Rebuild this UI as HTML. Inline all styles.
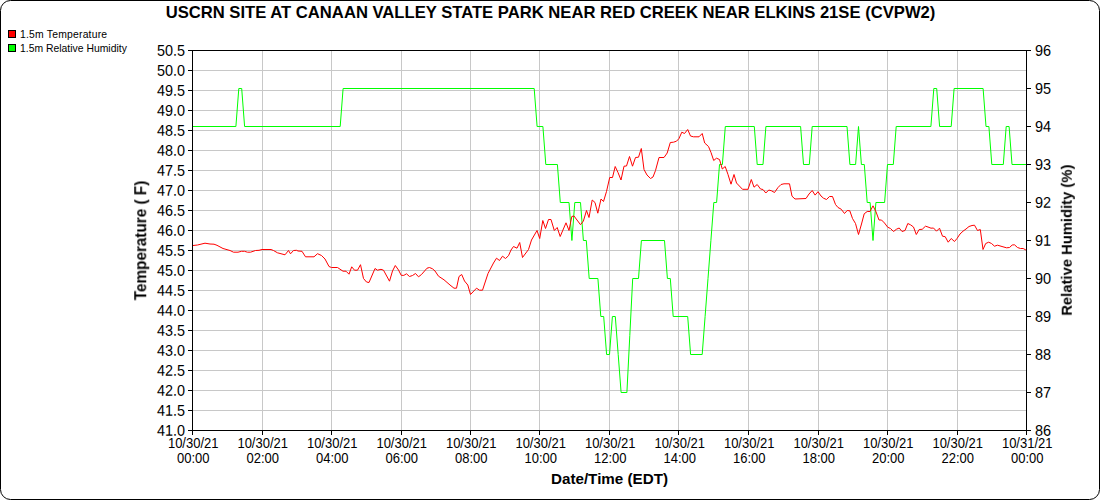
<!DOCTYPE html>
<html><head><meta charset="utf-8"><title>USCRN</title>
<style>
html,body{margin:0;padding:0;background:#fff;}
body{width:1100px;height:500px;overflow:hidden;}
svg{display:block;font-family:"Liberation Sans",sans-serif;}
</style></head><body>
<svg width="1100" height="500" viewBox="0 0 1100 500">
<rect x="0" y="0" width="1100" height="500" fill="#fff"/>
<rect x="0.5" y="0.5" width="1099" height="499" rx="10" ry="10" fill="#fff" stroke="#000" stroke-width="1"/>
<g stroke="#c8c8c8" stroke-width="1" shape-rendering="crispEdges">
<line x1="192.5" y1="70.5" x2="1026.5" y2="70.5"/>
<line x1="192.5" y1="90.5" x2="1026.5" y2="90.5"/>
<line x1="192.5" y1="110.5" x2="1026.5" y2="110.5"/>
<line x1="192.5" y1="130.5" x2="1026.5" y2="130.5"/>
<line x1="192.5" y1="150.5" x2="1026.5" y2="150.5"/>
<line x1="192.5" y1="170.5" x2="1026.5" y2="170.5"/>
<line x1="192.5" y1="190.5" x2="1026.5" y2="190.5"/>
<line x1="192.5" y1="210.5" x2="1026.5" y2="210.5"/>
<line x1="192.5" y1="230.5" x2="1026.5" y2="230.5"/>
<line x1="192.5" y1="250.5" x2="1026.5" y2="250.5"/>
<line x1="192.5" y1="270.5" x2="1026.5" y2="270.5"/>
<line x1="192.5" y1="290.5" x2="1026.5" y2="290.5"/>
<line x1="192.5" y1="310.5" x2="1026.5" y2="310.5"/>
<line x1="192.5" y1="330.5" x2="1026.5" y2="330.5"/>
<line x1="192.5" y1="350.5" x2="1026.5" y2="350.5"/>
<line x1="192.5" y1="370.5" x2="1026.5" y2="370.5"/>
<line x1="192.5" y1="390.5" x2="1026.5" y2="390.5"/>
<line x1="192.5" y1="410.5" x2="1026.5" y2="410.5"/>
<line x1="262.5" y1="50.5" x2="262.5" y2="430.5"/>
<line x1="331.5" y1="50.5" x2="331.5" y2="430.5"/>
<line x1="401.5" y1="50.5" x2="401.5" y2="430.5"/>
<line x1="470.5" y1="50.5" x2="470.5" y2="430.5"/>
<line x1="539.5" y1="50.5" x2="539.5" y2="430.5"/>
<line x1="609.5" y1="50.5" x2="609.5" y2="430.5"/>
<line x1="678.5" y1="50.5" x2="678.5" y2="430.5"/>
<line x1="748.5" y1="50.5" x2="748.5" y2="430.5"/>
<line x1="818.5" y1="50.5" x2="818.5" y2="430.5"/>
<line x1="887.5" y1="50.5" x2="887.5" y2="430.5"/>
<line x1="957.5" y1="50.5" x2="957.5" y2="430.5"/>
</g>
<g fill="none" stroke-width="1" stroke-linejoin="miter" stroke-miterlimit="10" stroke-linecap="butt">
<path stroke="#00ff00" d="M192.5 126.5 L235.9 126.5 L238.8 88.5 L241.7 88.5 L244.6 126.5 L340.2 126.5 L343.1 88.5 L534.2 88.5 L537.1 126.5 L542.9 126.5 L545.8 164.5 L557.4 164.5 L560.3 202.5 L569.0 202.5 L571.9 240.5 L574.8 202.5 L580.5 202.5 L583.4 240.5 L586.3 240.5 L589.2 278.5 L597.9 278.5 L600.8 316.5 L603.7 316.5 L606.6 354.5 L609.5 354.5 L612.4 316.5 L615.3 316.5 L618.2 354.5 L621.1 392.5 L626.9 392.5 L629.8 335.5 L632.7 278.5 L638.5 278.5 L641.4 240.5 L664.5 240.5 L667.4 278.5 L670.3 278.5 L673.2 316.5 L687.7 316.5 L690.6 354.5 L702.2 354.5 L705.1 316.5 L708.0 278.5 L710.9 240.5 L713.8 202.5 L716.6 202.5 L719.5 164.5 L722.4 164.5 L725.3 126.5 L754.3 126.5 L757.2 164.5 L763.0 164.5 L765.9 126.5 L800.6 126.5 L803.5 164.5 L809.3 164.5 L812.2 126.5 L847.0 126.5 L849.9 164.5 L855.6 164.5 L858.5 126.5 L861.4 164.5 L864.3 164.5 L867.2 202.5 L870.1 202.5 L873.0 240.5 L875.9 202.5 L884.6 202.5 L887.5 164.5 L893.3 164.5 L896.2 126.5 L930.9 126.5 L933.8 88.5 L936.7 88.5 L939.6 126.5 L951.2 126.5 L954.1 88.5 L983.1 88.5 L986.0 126.5 L988.9 126.5 L991.8 164.5 L1003.3 164.5 L1006.2 126.5 L1009.1 126.5 L1012.0 164.5 L1026.5 164.5"/>
<path stroke="#ff0000" d="M193.0 245.5 L197.5 245.0 L205.0 243.2 L210.0 244.0 L214.0 244.2 L217.0 245.3 L223.0 248.5 L230.0 250.5 L233.5 252.2 L238.0 252.2 L241.5 251.3 L244.5 251.3 L247.5 252.2 L250.5 252.2 L255.5 250.5 L259.0 250.3 L262.0 249.5 L271.0 249.5 L273.5 250.5 L277.5 252.8 L285.0 254.8 L288.5 250.5 L290.5 253.8 L293.5 250.5 L296.5 250.3 L298.0 251.0 L302.0 251.3 L305.5 256.8 L314.0 256.8 L317.5 253.7 L321.5 255.5 L325.0 259.0 L329.0 266.5 L331.5 267.5 L337.5 267.5 L343.0 271.2 L346.0 271.2 L349.0 274.2 L351.7 266.8 L354.5 270.2 L357.5 270.2 L360.5 264.7 L363.5 278.5 L366.5 282.0 L369.0 282.5 L375.0 268.5 L377.5 270.2 L381.0 269.3 L383.5 270.2 L389.5 281.2 L392.5 271.0 L395.3 265.5 L398.5 270.0 L401.2 275.3 L403.8 275.4 L406.5 273.8 L409.5 276.5 L412.5 275.5 L415.5 273.5 L418.5 276.8 L421.5 274.5 L427.0 268.2 L429.5 267.5 L432.5 268.8 L435.0 271.0 L438.5 276.2 L444.0 279.8 L450.0 285.0 L454.0 288.2 L456.5 288.2 L459.0 276.5 L461.7 274.5 L464.5 281.0 L467.8 285.0 L470.5 294.5 L476.5 288.2 L479.5 290.2 L482.5 290.2 L488.0 273.5 L493.5 263.0 L496.5 258.2 L499.5 260.5 L502.5 256.2 L505.5 258.5 L508.5 255.7 L511.0 250.0 L513.5 246.5 L517.0 248.2 L519.7 242.5 L522.5 257.5 L528.5 249.5 L531.5 240.0 L537.0 230.5 L539.7 238.5 L542.8 220.5 L545.5 228.5 L548.5 219.5 L551.0 219.5 L554.3 230.5 L557.2 227.5 L560.2 236.5 L566.0 222.8 L569.0 230.5 L571.8 216.5 L574.0 216.0 L580.5 224.7 L583.4 221.0 L586.5 210.5 L589.0 217.5 L592.2 200.0 L595.0 202.5 L597.8 213.2 L601.0 199.0 L603.5 201.5 L606.5 191.5 L609.7 177.5 L612.5 177.5 L615.2 166.5 L618.0 172.5 L621.0 180.0 L624.0 166.2 L626.5 166.0 L629.5 156.5 L632.5 166.2 L635.5 157.5 L638.5 157.2 L641.3 148.5 L644.0 169.5 L647.0 175.0 L650.5 178.5 L653.0 177.0 L655.5 170.5 L659.0 157.5 L664.0 157.5 L667.2 153.0 L670.3 142.5 L673.5 142.2 L676.5 141.2 L679.0 138.5 L681.8 132.2 L684.5 133.5 L687.7 129.5 L690.5 136.0 L693.5 136.8 L699.0 136.8 L702.2 133.5 L704.7 143.0 L708.5 146.5 L711.0 152.5 L713.7 160.5 L716.5 158.2 L719.5 159.5 L722.3 169.0 L725.2 166.5 L728.0 174.5 L731.0 184.2 L734.0 174.5 L736.5 183.0 L742.5 189.3 L748.0 189.3 L751.3 179.5 L754.0 187.2 L757.2 184.5 L760.5 189.0 L763.0 189.5 L765.8 193.0 L768.8 190.0 L771.5 190.8 L774.5 192.5 L778.0 187.5 L781.0 184.5 L784.0 183.8 L789.5 183.8 L792.0 196.2 L795.0 199.0 L806.0 198.5 L809.0 194.0 L812.2 190.5 L815.1 195.1 L818.0 191.7 L821.0 196.0 L823.5 198.2 L826.5 199.5 L829.5 196.5 L832.5 196.5 L835.5 204.5 L838.0 207.5 L841.2 209.2 L844.5 213.5 L847.2 210.5 L849.8 210.8 L852.5 218.5 L855.5 223.5 L858.5 234.5 L861.5 224.0 L864.2 213.8 L867.2 211.5 L870.0 211.5 L873.0 205.8 L876.0 211.8 L879.0 220.0 L881.5 220.0 L884.5 223.0 L887.7 227.2 L890.5 228.5 L893.5 231.5 L896.5 229.2 L899.2 228.0 L902.0 231.5 L905.0 230.5 L907.8 223.5 L910.5 224.8 L913.5 227.0 L916.3 234.5 L919.2 229.5 L922.2 229.3 L925.5 226.2 L928.0 227.0 L931.0 228.2 L933.5 228.0 L936.5 231.2 L939.5 228.2 L942.5 236.2 L945.2 236.7 L948.2 242.2 L951.2 238.5 L954.5 241.5 L957.0 238.5 L960.0 234.0 L963.0 231.2 L966.0 229.0 L969.0 226.5 L972.0 225.5 L974.5 225.2 L977.5 230.5 L980.3 229.5 L983.0 249.5 L985.7 243.5 L988.7 242.2 L991.5 243.5 L994.5 246.2 L997.5 245.2 L1003.0 246.8 L1006.5 247.8 L1009.5 247.5 L1012.2 245.0 L1014.5 244.8 L1017.5 247.5 L1020.5 248.5 L1023.2 248.5 L1026.2 250.2"/>
</g>

<g stroke="#000" stroke-width="1" fill="none" shape-rendering="crispEdges">
<rect x="192.5" y="50.5" width="834.0" height="380.0"/>
<line x1="188.0" y1="50.5" x2="192.5" y2="50.5"/>
<line x1="188.0" y1="70.5" x2="192.5" y2="70.5"/>
<line x1="188.0" y1="90.5" x2="192.5" y2="90.5"/>
<line x1="188.0" y1="110.5" x2="192.5" y2="110.5"/>
<line x1="188.0" y1="130.5" x2="192.5" y2="130.5"/>
<line x1="188.0" y1="150.5" x2="192.5" y2="150.5"/>
<line x1="188.0" y1="170.5" x2="192.5" y2="170.5"/>
<line x1="188.0" y1="190.5" x2="192.5" y2="190.5"/>
<line x1="188.0" y1="210.5" x2="192.5" y2="210.5"/>
<line x1="188.0" y1="230.5" x2="192.5" y2="230.5"/>
<line x1="188.0" y1="250.5" x2="192.5" y2="250.5"/>
<line x1="188.0" y1="270.5" x2="192.5" y2="270.5"/>
<line x1="188.0" y1="290.5" x2="192.5" y2="290.5"/>
<line x1="188.0" y1="310.5" x2="192.5" y2="310.5"/>
<line x1="188.0" y1="330.5" x2="192.5" y2="330.5"/>
<line x1="188.0" y1="350.5" x2="192.5" y2="350.5"/>
<line x1="188.0" y1="370.5" x2="192.5" y2="370.5"/>
<line x1="188.0" y1="390.5" x2="192.5" y2="390.5"/>
<line x1="188.0" y1="410.5" x2="192.5" y2="410.5"/>
<line x1="188.0" y1="430.5" x2="192.5" y2="430.5"/>
<line x1="1026.5" y1="50.5" x2="1031.0" y2="50.5"/>
<line x1="1026.5" y1="88.5" x2="1031.0" y2="88.5"/>
<line x1="1026.5" y1="126.5" x2="1031.0" y2="126.5"/>
<line x1="1026.5" y1="164.5" x2="1031.0" y2="164.5"/>
<line x1="1026.5" y1="202.5" x2="1031.0" y2="202.5"/>
<line x1="1026.5" y1="240.5" x2="1031.0" y2="240.5"/>
<line x1="1026.5" y1="278.5" x2="1031.0" y2="278.5"/>
<line x1="1026.5" y1="316.5" x2="1031.0" y2="316.5"/>
<line x1="1026.5" y1="354.5" x2="1031.0" y2="354.5"/>
<line x1="1026.5" y1="392.5" x2="1031.0" y2="392.5"/>
<line x1="1026.5" y1="430.5" x2="1031.0" y2="430.5"/>
<line x1="192.5" y1="430.5" x2="192.5" y2="435.0"/>
<line x1="262.5" y1="430.5" x2="262.5" y2="435.0"/>
<line x1="331.5" y1="430.5" x2="331.5" y2="435.0"/>
<line x1="401.5" y1="430.5" x2="401.5" y2="435.0"/>
<line x1="470.5" y1="430.5" x2="470.5" y2="435.0"/>
<line x1="539.5" y1="430.5" x2="539.5" y2="435.0"/>
<line x1="609.5" y1="430.5" x2="609.5" y2="435.0"/>
<line x1="678.5" y1="430.5" x2="678.5" y2="435.0"/>
<line x1="748.5" y1="430.5" x2="748.5" y2="435.0"/>
<line x1="818.5" y1="430.5" x2="818.5" y2="435.0"/>
<line x1="887.5" y1="430.5" x2="887.5" y2="435.0"/>
<line x1="957.5" y1="430.5" x2="957.5" y2="435.0"/>
<line x1="1026.5" y1="430.5" x2="1026.5" y2="435.0"/>
</g>
<g font-size="15.5" fill="#000" text-anchor="end">
<text transform="translate(185.0,55.8) rotate(0.03) scale(0.929,1)">50.5</text>
<text transform="translate(185.0,75.8) rotate(0.03) scale(0.929,1)">50.0</text>
<text transform="translate(185.0,95.8) rotate(0.03) scale(0.929,1)">49.5</text>
<text transform="translate(185.0,115.8) rotate(0.03) scale(0.929,1)">49.0</text>
<text transform="translate(185.0,135.8) rotate(0.03) scale(0.929,1)">48.5</text>
<text transform="translate(185.0,155.8) rotate(0.03) scale(0.929,1)">48.0</text>
<text transform="translate(185.0,175.8) rotate(0.03) scale(0.929,1)">47.5</text>
<text transform="translate(185.0,195.8) rotate(0.03) scale(0.929,1)">47.0</text>
<text transform="translate(185.0,215.8) rotate(0.03) scale(0.929,1)">46.5</text>
<text transform="translate(185.0,235.8) rotate(0.03) scale(0.929,1)">46.0</text>
<text transform="translate(185.0,255.8) rotate(0.03) scale(0.929,1)">45.5</text>
<text transform="translate(185.0,275.8) rotate(0.03) scale(0.929,1)">45.0</text>
<text transform="translate(185.0,295.8) rotate(0.03) scale(0.929,1)">44.5</text>
<text transform="translate(185.0,315.8) rotate(0.03) scale(0.929,1)">44.0</text>
<text transform="translate(185.0,335.8) rotate(0.03) scale(0.929,1)">43.5</text>
<text transform="translate(185.0,355.8) rotate(0.03) scale(0.929,1)">43.0</text>
<text transform="translate(185.0,375.8) rotate(0.03) scale(0.929,1)">42.5</text>
<text transform="translate(185.0,395.8) rotate(0.03) scale(0.929,1)">42.0</text>
<text transform="translate(185.0,415.8) rotate(0.03) scale(0.929,1)">41.5</text>
<text transform="translate(185.0,435.8) rotate(0.03) scale(0.929,1)">41.0</text>
</g>
<g font-size="15.5" fill="#000" text-anchor="start">
<text transform="translate(1034.9,55.8) rotate(0.03) scale(0.935,1)">96</text>
<text transform="translate(1034.9,93.8) rotate(0.03) scale(0.935,1)">95</text>
<text transform="translate(1034.9,131.8) rotate(0.03) scale(0.935,1)">94</text>
<text transform="translate(1034.9,169.8) rotate(0.03) scale(0.935,1)">93</text>
<text transform="translate(1034.9,207.8) rotate(0.03) scale(0.935,1)">92</text>
<text transform="translate(1034.9,245.8) rotate(0.03) scale(0.935,1)">91</text>
<text transform="translate(1034.9,283.8) rotate(0.03) scale(0.935,1)">90</text>
<text transform="translate(1034.9,321.8) rotate(0.03) scale(0.935,1)">89</text>
<text transform="translate(1034.9,359.8) rotate(0.03) scale(0.935,1)">88</text>
<text transform="translate(1034.9,397.8) rotate(0.03) scale(0.935,1)">87</text>
<text transform="translate(1034.9,435.8) rotate(0.03) scale(0.935,1)">86</text>
</g>
<g font-size="13" fill="#000" text-anchor="middle">
<text transform="translate(193.2,448) scale(1,1.1)">10/30/21</text><text transform="translate(193.2,463) scale(1,1.1)">00:00</text>
<text transform="translate(262.7,448) scale(1,1.1)">10/30/21</text><text transform="translate(262.7,463) scale(1,1.1)">02:00</text>
<text transform="translate(332.2,448) scale(1,1.1)">10/30/21</text><text transform="translate(332.2,463) scale(1,1.1)">04:00</text>
<text transform="translate(401.7,448) scale(1,1.1)">10/30/21</text><text transform="translate(401.7,463) scale(1,1.1)">06:00</text>
<text transform="translate(471.2,448) scale(1,1.1)">10/30/21</text><text transform="translate(471.2,463) scale(1,1.1)">08:00</text>
<text transform="translate(540.7,448) scale(1,1.1)">10/30/21</text><text transform="translate(540.7,463) scale(1,1.1)">10:00</text>
<text transform="translate(610.2,448) scale(1,1.1)">10/30/21</text><text transform="translate(610.2,463) scale(1,1.1)">12:00</text>
<text transform="translate(679.7,448) scale(1,1.1)">10/30/21</text><text transform="translate(679.7,463) scale(1,1.1)">14:00</text>
<text transform="translate(749.2,448) scale(1,1.1)">10/30/21</text><text transform="translate(749.2,463) scale(1,1.1)">16:00</text>
<text transform="translate(818.7,448) scale(1,1.1)">10/30/21</text><text transform="translate(818.7,463) scale(1,1.1)">18:00</text>
<text transform="translate(888.2,448) scale(1,1.1)">10/30/21</text><text transform="translate(888.2,463) scale(1,1.1)">20:00</text>
<text transform="translate(957.7,448) scale(1,1.1)">10/30/21</text><text transform="translate(957.7,463) scale(1,1.1)">22:00</text>
<text transform="translate(1027.2,448) scale(1,1.1)">10/31/21</text><text transform="translate(1027.2,463) scale(1,1.1)">00:00</text>
</g>
<text x="550.5" y="18" font-size="16.64" font-weight="bold" text-anchor="middle">USCRN SITE AT CANAAN VALLEY STATE PARK NEAR RED CREEK NEAR ELKINS 21SE (CVPW2)</text>
<text x="609.5" y="484" font-size="15.2" font-weight="bold" text-anchor="middle">Date/Time (EDT)</text>
<g opacity="0.999">
<text transform="translate(146.6,240.5) rotate(-90) scale(1,1.025)" font-size="15.3" font-weight="bold" text-anchor="middle">Temperature ( F)</text>
<text transform="translate(1072.1,240.2) rotate(-90) scale(1,1.025)" font-size="14.8" font-weight="bold" text-anchor="middle">Relative Humidity (%)</text>
</g>
<rect x="8.5" y="30.5" width="7" height="7" fill="#f00" stroke="#000" stroke-width="1"/>
<rect x="8.5" y="44.5" width="7" height="7" fill="#0f0" stroke="#000" stroke-width="1"/>
<text x="20" y="38" font-size="10.4" letter-spacing="0.2">1.5m Temperature</text>
<text x="20" y="52" font-size="10.4">1.5m Relative Humidity</text>
</svg>
</body></html>
